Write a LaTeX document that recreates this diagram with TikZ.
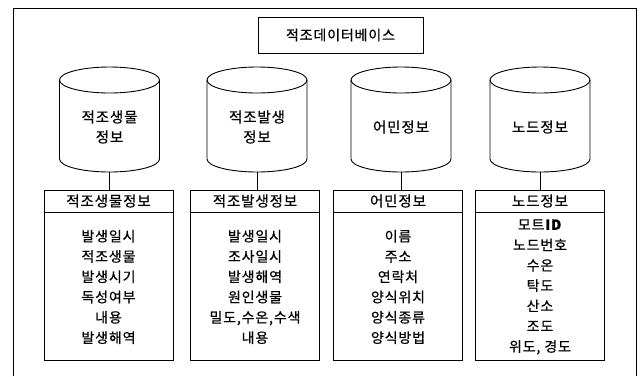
\documentclass[tikz,border=0pt]{standalone}
\usepackage{fontspec}
\setmainfont[FakeBold=0.6,LetterSpace=6]{Noto Sans CJK KR}
\begin{document}
\begin{tikzpicture}[x=1pt,y=1pt,line width=0.9pt,
  titlebox/.style={draw,minimum width=165pt,minimum height=36pt,inner sep=0pt,font=\fontsize{14}{16}\selectfont},
  cyltext/.style={align=center,inner sep=0pt,font=\fontsize{14.5}{20}\selectfont},
  hdr/.style={draw,minimum width=129pt,minimum height=22pt,inner sep=0pt,font=\fontsize{14.5}{16}\selectfont},
  bodybox/.style={draw,anchor=north,minimum width=129pt,minimum height=148pt,inner sep=0pt,align=center,font=\fontsize{14}{20.3}\selectfont},
  link/.style={line width=0.9pt}]
\useasboundingbox (0,0) rectangle (640,-376);
% outer frame
\draw (13,-376) -- (13,-8) -- (636,-8) -- (636,-376);
% title
\node[titlebox] (title) at (340.5,-35) {적조데이터베이스};
% cylinders
\foreach \i/\x in {1/109.5,2/257,3/401,4/540}{
  \draw (\x-50,-80) -- (\x-50,-159) arc[start angle=180,end angle=360,x radius=50pt,y radius=13pt] -- (\x+50,-80);
  \draw (\x,-80) ellipse[x radius=50pt,y radius=13pt];
  \coordinate (cb\i) at (\x,-172);
}
\node[cyltext] (c1) at (109.5,-127) {적조생물\\정보};
\node[cyltext] (c2) at (257,-127) {적조발생\\정보};
\node[cyltext] (c3) at (401,-127) {어민정보};
\node[cyltext] (c4) at (540,-127) {노드정보};
% tables
\node[hdr] (h1) at (108.5,-201) {적조생물정보};
\node[hdr] (h2) at (255,-201) {적조발생정보};
\node[hdr] (h3) at (398,-201) {어민정보};
\node[hdr] (h4) at (540,-201) {노드정보};
\node[bodybox] (b1) at (h1.south) {발생일시\\적조생물\\발생시기\\독성여부\\내용\\발생해역};
\node[bodybox] (b2) at (h2.south) {발생일시\\조사일시\\발생해역\\원인생물\\밀도,수온,수색\\내용};
\node[bodybox] (b3) at (h3.south) {이름\\주소\\연락처\\양식위치\\양식종류\\양식방법};
\node[bodybox] (b4) at (h4.south) {모트\textbf{ID}\\노드번호\\수온\\탁도\\산소\\조도\\위도, 경도};
% connectors
\foreach \i in {1,2,3,4}{
  \draw[link] (cb\i) -- (cb\i |- h\i.north);
}
\end{tikzpicture}
\end{document}
